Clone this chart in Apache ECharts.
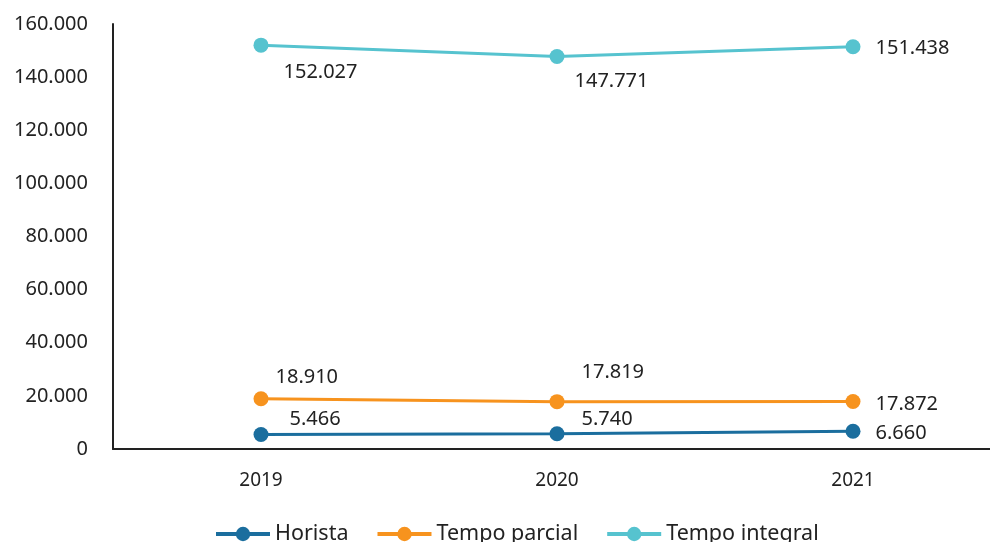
<!DOCTYPE html>
<html>
<head>
<meta charset="utf-8">
<script src="https://cdn.jsdelivr.net/npm/echarts@6/dist/echarts.min.js"></script>
<style>
  html, body { margin: 0; padding: 0; background: #fff; }
  #chart { width: 990px; height: 542px; }
</style>
</head>
<body>
<div id="chart"></div>
<script>
  const years = ['2019', '2020', '2021']
  const horista = [5466, 5740, 6660]
  const tempoParcial = [18910, 17819, 17872]
  const tempoIntegral = [152027, 147771, 151438]

  const fontFamily = '"Noto Sans", sans-serif'
  // 152027 -> "152.027"
  const fmt = v => {
    const s = String(v)
    return s.length > 3 ? s.slice(0, -3) + '.' + s.slice(-3) : s
  }

  // label offsets per point, [dx, dy] from the default 'right' position
  function withLabels(values, offsets) {
    return values.map((v, i) => ({
      value: v,
      label: { offset: offsets[i] }
    }))
  }

  function lineSeries(name, data, color) {
    return {
      name,
      type: 'line',
      data,
      symbol: 'circle',
      symbolSize: 15,
      lineStyle: { color, width: 3 },
      itemStyle: { color },
      label: {
        show: true,
        position: 'right',
        color: '#222',
        fontSize: 20,
        fontFamily,
        formatter: p => fmt(p.value)
      },
      emphasis: { disabled: true }
    }
  }

  const chart = echarts.init(document.getElementById('chart'))
  chart.setOption({
    animation: false,
    grid: { left: 113, width: 888, top: 24, bottom: 93, outerBoundsMode: 'none' },
    xAxis: {
      type: 'category',
      data: years,
      boundaryGap: true,
      axisTick: { show: false },
      axisLine: { lineStyle: { color: '#222', width: 2 } },
      axisLabel: { color: '#222', fontSize: 19, fontFamily, margin: 22 }
    },
    yAxis: {
      type: 'value',
      min: 0,
      max: 160000,
      interval: 20000,
      splitLine: { show: false },
      axisLine: { show: true, lineStyle: { color: '#222', width: 2 } },
      axisTick: { show: false },
      axisLabel: {
        color: '#222', fontSize: 20, fontFamily, margin: 25,
        formatter: v => fmt(v)
      }
    },
    legend: {
      bottom: -8,
      left: 209,
      itemWidth: 54,
      itemHeight: 18,
      itemGap: 27,
      lineStyle: { width: 4 },
      textStyle: { color: '#222', fontSize: 21.5, fontFamily },
      data: ['Horista', 'Tempo parcial', 'Tempo integral']
    },
    series: [
      lineSeries('Horista', withLabels(horista, [[16, -15], [12, -14], [10, 2]]), '#1B6E9E'),
      lineSeries('Tempo parcial', withLabels(tempoParcial, [[2, -21], [12, -29], [10, 3]]), '#F7931E'),
      lineSeries('Tempo integral', withLabels(tempoIntegral, [[10, 27], [5, 25], [10, 2]]), '#56C3CF')
    ]
  })
</script>
</body>
</html>
